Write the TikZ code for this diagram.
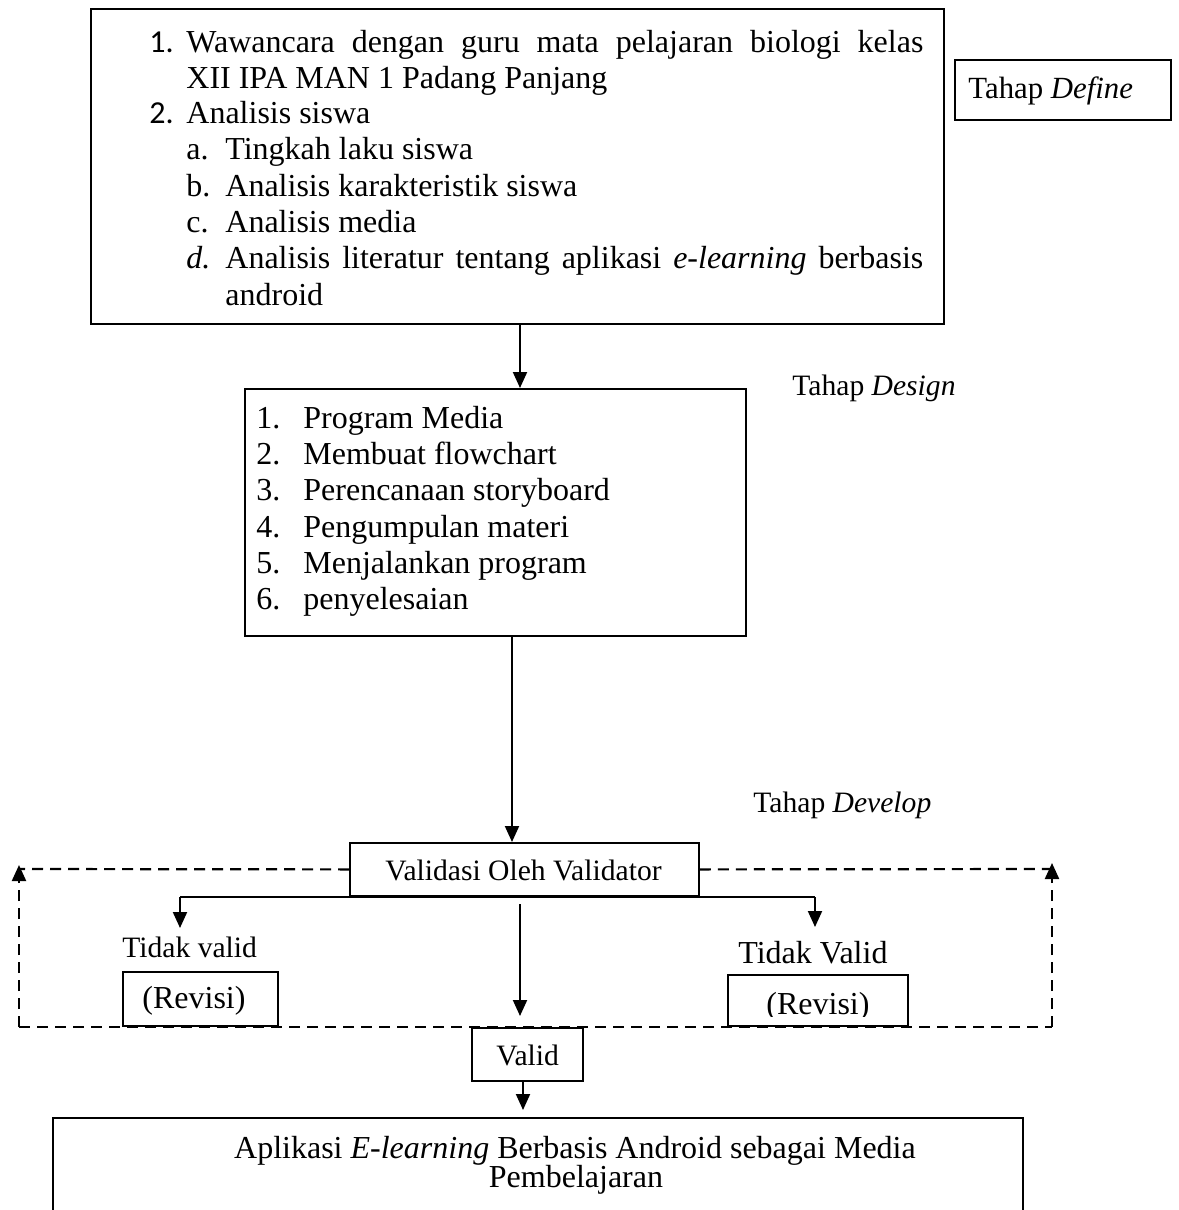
\documentclass[tikz,border=0pt]{standalone}
\usepackage{fontspec}
\setmainfont{Liberation Serif}
\newfontfamily\numfont{Carlito}
\usetikzlibrary{arrows.meta}
\newcommand\fs{\fontsize{14.8pt}{18pt}\selectfont}
\newcommand\fsb{\fontsize{16pt}{19pt}\selectfont}
\tikzset{
  box/.style={draw, line width=0.9pt, inner sep=0pt, anchor=north west},
  arr/.style={line width=1pt, -{Triangle[length=8pt,width=7pt]}},
  plain/.style={line width=1pt},
  dline/.style={line width=1.1pt, dash pattern=on 5.5pt off 3.5pt},
  darr/.style={line width=1.1pt, dash pattern=on 5.5pt off 3.5pt, -{Triangle[length=8pt,width=7pt]}},
  txt/.style={inner sep=0pt, anchor=base west, font=\fs},
  btxt/.style={inner sep=0pt, anchor=base west, font=\fsb},
  ctxt/.style={inner sep=0pt, anchor=base, font=\fsb},
}
\begin{document}
\begin{tikzpicture}[x=0.5pt,y=-0.5pt]
\useasboundingbox (0,0) rectangle (1178,1210);
% boxes
\node[box, minimum width=426.5pt, minimum height=157.5pt] (define) at (90,8) {};
\node[box, minimum width=108pt, minimum height=30pt] (deflab) at (954,59) {};
\node[box, minimum width=250.5pt, minimum height=123.5pt] (design) at (244,388) {};
\node[box, minimum width=174.5pt, minimum height=26.5pt] (val) at (349,842) {};
\node[box, minimum width=77.5pt, minimum height=27pt] (revL) at (122,971) {};
\node[box, minimum width=90pt, minimum height=25.5pt] (revR) at (727,974) {};
\node[box, minimum width=55.5pt, minimum height=26.5pt] (valid) at (471,1027) {};
\node[inner sep=0pt, anchor=north west, minimum width=484.5pt, minimum height=46pt] (final) at (53,1118) {};
\draw[line width=0.9pt] (final.south west) -- (final.north west) -- (final.north east) -- (final.south east);

% define text
\node[btxt] (d1n) at (149,53) {\numfont 1.};
\node[btxt] (d1) at (186,53) {\makebox[368.5pt][s]{Wawancara dengan guru mata pelajaran biologi kelas}};
\node[btxt] (d1b) at (186,88) {XII IPA MAN 1 Padang Panjang};
\node[btxt] (d2n) at (149,123) {\numfont 2.};
\node[btxt] (d2) at (186,123) {Analisis siswa};
\node[btxt] (dan) at (186,159) {a.};
\node[btxt] (da) at (225,159) {Tingkah laku siswa};
\node[btxt] (dbn) at (186,196) {b.};
\node[btxt] (db) at (225,196) {Analisis karakteristik siswa};
\node[btxt] (dcn) at (186,232) {c.};
\node[btxt] (dc) at (225,232) {Analisis media};
\node[btxt] (ddn) at (186,268) {\textit{d.}};
\node[btxt] (dd) at (225,268) {\makebox[349pt][s]{Analisis literatur tentang aplikasi \textit{e-learning} berbasis}};
\node[btxt] (ddb) at (225,305) {android};

\node[txt, font=\fontsize{15.4pt}{18pt}\selectfont] (tdef) at (968,98) {Tahap \textit{Define}};
\node[txt] (tdes) at (792,395) {Tahap \textit{Design}};
\node[txt] (tdev) at (753,812) {Tahap \textit{Develop}};

% design text
\node[btxt] (s1n) at (256,428) {1.};
\node[btxt] (s1) at (303,428) {Program Media};
\node[btxt] (s2n) at (256,464) {2.};
\node[btxt] (s2) at (303,464) {Membuat flowchart};
\node[btxt] (s3n) at (256,500) {3.};
\node[btxt] (s3) at (303,500) {Perencanaan storyboard};
\node[btxt] (s4n) at (256,537) {4.};
\node[btxt] (s4) at (303,537) {Pengumpulan materi};
\node[btxt] (s5n) at (256,573) {5.};
\node[btxt] (s5) at (303,573) {Menjalankan program};
\node[btxt] (s6n) at (256,609) {6.};
\node[btxt] (s6) at (303,609) {penyelesaian};

% develop
\node[txt] (valt) at (385,880) {Validasi Oleh Validator};
\node[txt] (tvl) at (122,957) {Tidak valid};
\node[btxt] (rvl) at (142,1008) {(Revisi)};
\node[btxt] (tvr) at (738,963) {Tidak Valid};
\begin{scope}
\clip (727,974) rectangle (907,1016);
\node[btxt] (rvr) at (766,1014) {(Revisi)};
\end{scope}
\node[txt] (vt) at (496,1065) {Valid};

\node[ctxt] (f1) at (575,1158) {Aplikasi \textit{E-learning} Berbasis Android sebagai Media};
\node[ctxt] (f2) at (576,1187) {Pembelajaran};

% connectors
\draw[arr] (520,0 |- define.south) -- (520,0 |- design.north);
\draw[arr] (512,0 |- design.south) -- (512,0 |- val.north);
\coordinate (bl) at (180,897);
\coordinate (br) at (815,897);
\coordinate (blt) at (180,928);
\coordinate (brt) at (815,927);
\draw[plain] (bl) -- (br);
\draw[arr] (bl) -- (blt);
\draw[arr] (br) -- (brt);
\coordinate (cs) at (520,904);
\coordinate (ce) at (520,1016);
\draw[arr] (cs) -- (ce);
\coordinate (vf) at (523,1110);
\draw[arr] (523,0 |- valid.south) -- (vf);

% dashed loop
\coordinate (dtl) at (19,869);
\coordinate (dbl) at (19,1027);
\coordinate (dtr) at (1052,869);
\coordinate (dbr) at (1052,1027);
\draw[dline] (val.west) -- (dtl);
\draw[dline] (val.east) -- (dtr);
\draw[dline] (dbl) -- (dbr);
\draw[darr] (dbl) -- (19,865);
\draw[darr] (dbr) -- (1052,863);
\end{tikzpicture}
\end{document}
